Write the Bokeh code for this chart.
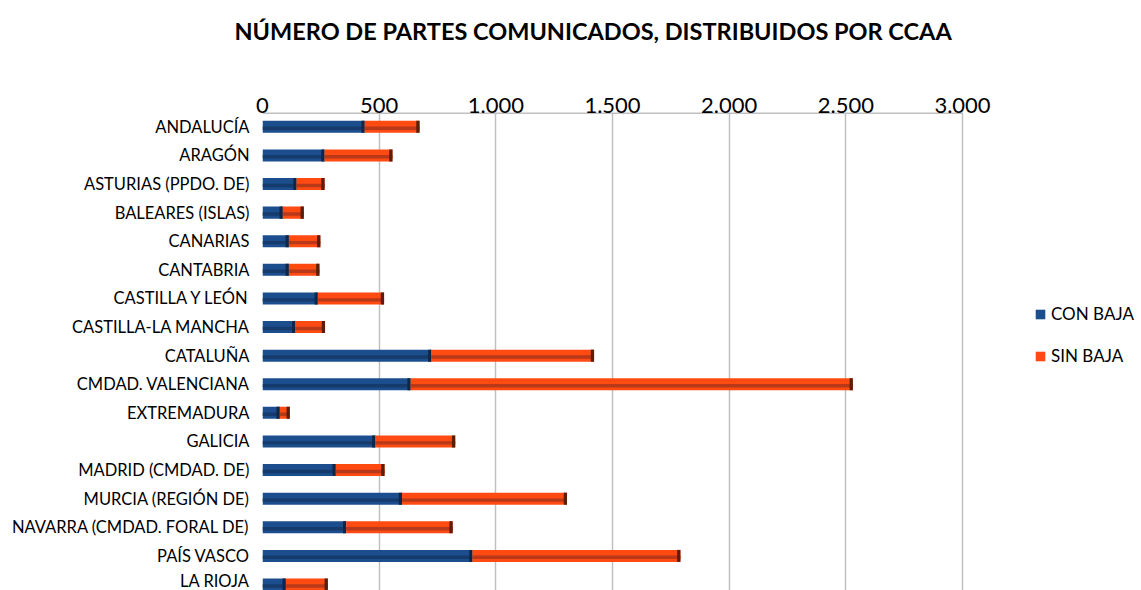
from bokeh.plotting import figure
from bokeh.models import Range1d, FixedTicker, Legend, LegendItem, Title, ColumnDataSource
from bokeh.embed import file_html
from bokeh.resources import INLINE

regions = ["ANDALUCÍA", "ARAGÓN", "ASTURIAS (PPDO. DE)", "BALEARES (ISLAS)", "CANARIAS",
           "CANTABRIA", "CASTILLA Y LEÓN", "CASTILLA-LA MANCHA", "CATALUÑA",
           "CMDAD. VALENCIANA", "EXTREMADURA", "GALICIA", "MADRID (CMDAD. DE)",
           "MURCIA (REGIÓN DE)", "NAVARRA (CMDAD. FORAL DE)", "PAÍS VASCO", "LA RIOJA"]
con_baja = [438, 266, 146, 87, 113, 113, 237, 141, 724, 635, 74, 484, 314, 598, 359, 900, 100]
sin_baja = [235, 291, 120, 90, 135, 131, 284, 127, 697, 1895, 43, 342, 209, 707, 456, 891, 180]
x_ticks = [0, 500, 1000, 1500, 2000, 2500, 3000]
x_tick_labels = ["0", "500", "1.000", "1.500", "2.000", "2.500", "3.000"]

FONT = "Lato"
BLUE, BLUE_DARK, BLUE_END = "#1c4e8e", "#143b6c", "#0d2748"
ORANGE, ORANGE_DARK, ORANGE_END = "#ff4a12", "#b8391a", "#5a1e0a"
GRID = "#c0c0c0"

W, HGT = 1141, 590
FRAME_LEFT, PLOT_W = 262, 700          # plot area (value axis 0..3000) width in px
x_max = x_ticks[-1]
x_end = x_max * (W - FRAME_LEFT) / PLOT_W  # frame extends over legend area

ypos = list(range(len(regions)))
y_top = -0.5
total = [c + s for c, s in zip(con_baja, sin_baja)]
src = ColumnDataSource(dict(
    y=ypos, ys=[y + 0.05 for y in ypos], con=con_baja, total=total,
    zero=[0] * len(regions),
    con_cap=[c - 14 for c in con_baja], tot_cap=[t - 14 for t in total],
))

p = figure(width=W, height=HGT, x_axis_location="above",
           x_range=Range1d(0, x_end), y_range=Range1d(16.21, y_top),
           output_backend="svg", toolbar_location=None, title=None,
           min_border_left=FRAME_LEFT, min_border_right=0, min_border_bottom=0,
           min_border_top=112)

H = 0.42
r_con = p.hbar(y="y", left="zero", right="con", height=H, source=src,
               fill_color=BLUE, line_color=None)
p.hbar(y="ys", left="zero", right="con", height=0.12, source=src,
       fill_color=BLUE_DARK, line_color=None)
p.hbar(y="y", left="con_cap", right="con", height=H, source=src,
       fill_color=BLUE_END, line_color=None)
r_sin = p.hbar(y="y", left="con", right="total", height=H, source=src,
               fill_color=ORANGE, line_color=None)
p.hbar(y="ys", left="con", right="total", height=0.12, source=src,
       fill_color=ORANGE_DARK, line_color=None)
p.hbar(y="y", left="tot_cap", right="total", height=H, source=src,
       fill_color=ORANGE_END, line_color=None)

# top border of the plot area
p.segment(x0=[x_ticks[0]], x1=[x_max], y0=[y_top], y1=[y_top],
          line_color=GRID, line_width=3)

xa = p.xaxis[0]
xa.ticker = FixedTicker(ticks=x_ticks)
xa.major_label_overrides = {t: l for t, l in zip(x_ticks, x_tick_labels)}
xa.axis_line_color = None
xa.major_tick_line_color = None
xa.minor_tick_line_color = None
xa.major_tick_out = 0
xa.major_label_text_font = FONT
xa.major_label_text_font_size = "22px"
xa.major_label_text_color = "#000000"
xa.major_label_standoff = 0

ya = p.yaxis[0]
ya.ticker = FixedTicker(ticks=ypos)
ya.major_label_overrides = {i: r for i, r in zip(ypos, regions)}
ya.axis_line_color = None
ya.major_tick_line_color = None
ya.minor_tick_line_color = None
ya.major_tick_out = 0
ya.major_label_text_font = FONT
ya.major_label_text_font_size = "16.5px"
ya.major_label_text_color = "#000000"
ya.major_label_standoff = 13

p.xgrid.grid_line_color = GRID
p.xgrid.grid_line_width = 1.5
p.ygrid.grid_line_color = None
p.outline_line_color = None

# empty spacer panel between the tick labels and the title
spacer = Title(text=" ", text_font_size="1px", standoff=31)
p.add_layout(spacer, "above")

title = Title(text="NÚMERO DE PARTES COMUNICADOS, DISTRIBUIDOS POR CCAA",
              align="left", offset=-28, vertical_align="middle",
              text_font=FONT, text_font_style="bold",
              text_font_size="23.5px", text_color="#000000", standoff=30)
p.add_layout(title, "above")

legend = Legend(items=[LegendItem(label="CON BAJA", renderers=[r_con]),
                       LegendItem(label="SIN BAJA", renderers=[r_sin])],
                location=(772, 224), orientation="vertical",
                padding=0, margin=0, border_line_color=None, background_fill_alpha=0,
                glyph_width=12, glyph_height=12, label_standoff=5, spacing=21,
                label_height=20, label_text_font=FONT, label_text_font_size="17px",
                label_text_color="#000000")
p.add_layout(legend, "center")

html = file_html(p, INLINE)
html = html.replace("<head>", "<head><style>html,body{overflow:hidden}</style>", 1)
open("out.html", "w").write(html)
